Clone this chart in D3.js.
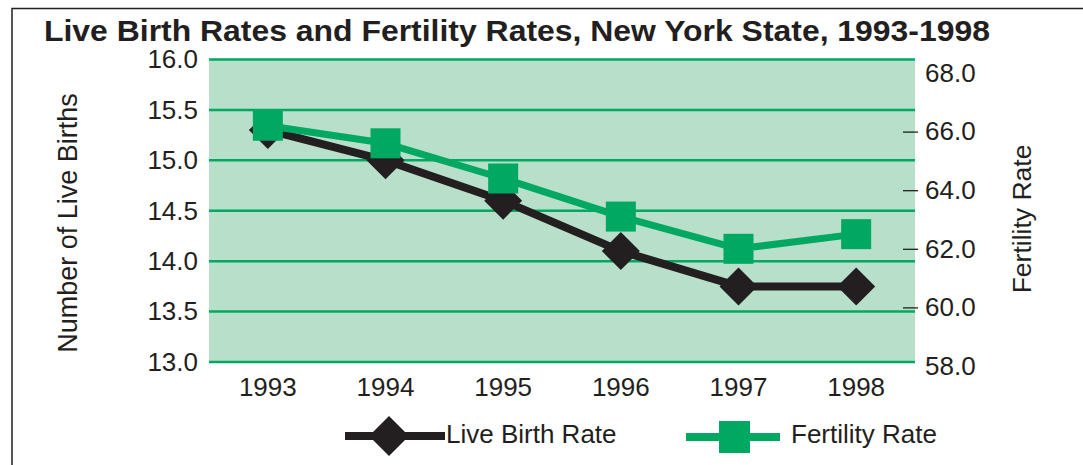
<!DOCTYPE html>
<html>
<head>
<meta charset="utf-8">
<title>Live Birth Rates and Fertility Rates</title>
<script src="https://cdnjs.cloudflare.com/ajax/libs/d3/7.8.5/d3.min.js"></script>
<style>
body { margin: 0; background: #fff; }
text { font-family: "Liberation Sans", Arial, Helvetica, sans-serif; fill: #231f20; }
</style>
</head>
<body>
<script>
var years = ["1993", "1994", "1995", "1996", "1997", "1998"];
var liveBirthRate = [15.3, 15.0, 14.6, 14.1, 13.75, 13.75];
var fertilityRate = [66.2, 65.6, 64.4, 63.1, 62.0, 62.5];
var leftTicks = [13.0, 13.5, 14.0, 14.5, 15.0, 15.5, 16.0];
var rightTicks = [58.0, 60.0, 62.0, 64.0, 66.0, 68.0];

var W = 1083, H = 465;
var green = "#00a862", black = "#231f20";

var svg = d3.select("body").append("svg")
    .attr("width", W)
    .attr("height", H);

// outer frame (top and left edges visible)
svg.append("path")
    .attr("d", "M12," + H + "V8.5H" + W)
    .attr("fill", "none")
    .attr("stroke", black)
    .attr("stroke-width", 1.5);

var x = d3.scaleBand().domain(years).range([209, 915]);
var yL = d3.scaleLinear().domain([13, 16]).range([362, 59.5]);
var yR = d3.scaleLinear().domain([58, 68]).range([366, 73]);

// plot background
svg.append("rect")
    .attr("x", 209).attr("y", yL(16))
    .attr("width", 915 - 209).attr("height", yL(13) - yL(16))
    .attr("fill", "#b8dfca");

// gridlines
svg.selectAll(".grid")
    .data(leftTicks)
  .enter().append("line")
    .attr("class", "grid")
    .attr("x1", 209).attr("x2", 915)
    .attr("y1", function(d){ return yL(d); })
    .attr("y2", function(d){ return yL(d); })
    .attr("stroke", green)
    .attr("stroke-width", 2.5);

// left axis labels
var gl = svg.append("g").attr("transform", "translate(209,0)")
    .call(d3.axisLeft(yL).tickValues(leftTicks).tickFormat(d3.format(".1f")).tickSize(0).tickPadding(11));
gl.select(".domain").remove();
gl.selectAll("text").style("font-size", "26px").attr("fill", black);

// right axis
var gr = svg.append("g").attr("transform", "translate(903,0)")
    .call(d3.axisRight(yR).tickValues(rightTicks).tickFormat(d3.format(".1f")).tickSize(15).tickPadding(7));
gr.select(".domain").remove();
gr.selectAll(".tick line").attr("stroke", black).attr("stroke-width", 1.3)
    .filter(function(d){ return d == 58 || d == 68; }).remove();
gr.selectAll("text").style("font-size", "26px").attr("fill", black);

// x axis labels
var gx = svg.append("g").attr("transform", "translate(0," + yL(13) + ")")
    .call(d3.axisBottom(x).tickSize(0).tickPadding(16));
gx.select(".domain").remove();
gx.selectAll("text").style("font-size", "26px").attr("fill", black);

// titles
var title = svg.append("text")
    .attr("x", 517).attr("y", 41)
    .attr("text-anchor", "middle")
    .style("font-size", "29px").style("font-weight", "bold")
    .text("Live Birth Rates and Fertility Rates, New York State, 1993-1998");
title.attr("textLength", 946).attr("lengthAdjust", "spacingAndGlyphs");

svg.append("text")
    .attr("transform", "translate(77,223) rotate(-90)")
    .attr("text-anchor", "middle")
    .style("font-size", "27px")
    .text("Number of Live Births");

svg.append("text")
    .attr("transform", "translate(1031,219) rotate(-90)")
    .attr("text-anchor", "middle")
    .style("font-size", "26.5px")
    .text("Fertility Rate");

var cx = function(d, i){ return x(years[i]) + x.bandwidth() / 2; };
var diamond = function(s){ return "M0," + (-s) + "L" + s + ",0L0," + s + "L" + (-s) + ",0Z"; };

// live birth series
svg.append("path")
    .datum(liveBirthRate)
    .attr("fill", "none")
    .attr("stroke", black)
    .attr("stroke-width", 8)
    .attr("stroke-linejoin", "round")
    .attr("d", d3.line().x(cx).y(function(d){ return yL(d); }));
svg.selectAll(".dia")
    .data(liveBirthRate)
  .enter().append("path")
    .attr("class", "dia")
    .attr("transform", function(d, i){ return "translate(" + cx(d, i) + "," + yL(d) + ")"; })
    .attr("d", diamond(19))
    .attr("fill", black);

// fertility series
svg.append("path")
    .datum(fertilityRate)
    .attr("fill", "none")
    .attr("stroke", green)
    .attr("stroke-width", 7)
    .attr("stroke-linejoin", "round")
    .attr("d", d3.line().x(cx).y(function(d){ return yR(d); }));
svg.selectAll(".sq")
    .data(fertilityRate)
  .enter().append("rect")
    .attr("class", "sq")
    .attr("x", function(d, i){ return cx(d, i) - 15; })
    .attr("y", function(d){ return yR(d) - 15; })
    .attr("width", 30).attr("height", 30)
    .attr("fill", green);

// legend
var leg = svg.append("g");
leg.append("line").attr("x1", 345).attr("x2", 445).attr("y1", 436).attr("y2", 436)
    .attr("stroke", black).attr("stroke-width", 8);
leg.append("path").attr("transform", "translate(389,436)").attr("d", diamond(20)).attr("fill", black);
leg.append("text").attr("x", 446).attr("y", 443).style("font-size", "26px").text("Live Birth Rate");

leg.append("line").attr("x1", 686).attr("x2", 780).attr("y1", 437).attr("y2", 437)
    .attr("stroke", green).attr("stroke-width", 8);
leg.append("rect").attr("x", 719).attr("y", 421).attr("width", 31).attr("height", 32).attr("fill", green);
leg.append("text").attr("x", 791).attr("y", 443).style("font-size", "26px").text("Fertility Rate");
</script>
</body>
</html>
